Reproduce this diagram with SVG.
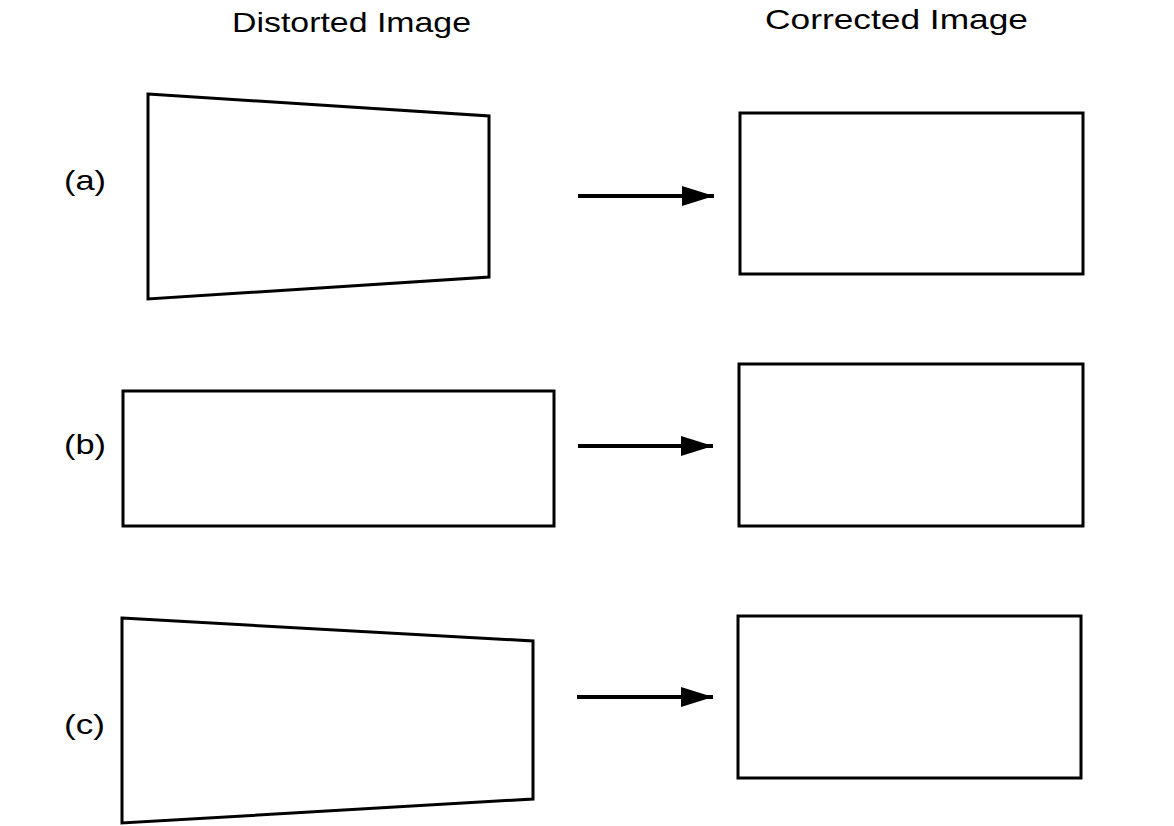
<svg xmlns="http://www.w3.org/2000/svg" width="1174" height="826" viewBox="0 0 1174 826">
<style>
.shape{fill:none;stroke:#000;stroke-width:3;stroke-linejoin:miter}
.lbl{font-family:"Liberation Sans",Arial,sans-serif;font-size:28px;fill:#000}
.conn{stroke:#000;stroke-width:4}
</style>
<defs>
<marker id="ah" markerUnits="userSpaceOnUse" markerWidth="34" markerHeight="20" refX="32" refY="10" orient="auto">
<path d="M0,0 L32,10 L0,20 Z" fill="#000"/>
</marker>
</defs>
<rect width="1174" height="826" fill="#fff"/>
<g id="headers">
<text class="lbl" x="232" y="32" textLength="239" lengthAdjust="spacingAndGlyphs">Distorted Image</text>
<text class="lbl" x="765" y="29" textLength="263" lengthAdjust="spacingAndGlyphs">Corrected Image</text>
</g>
<g id="row-labels">
<text class="lbl" x="64" y="190" textLength="42" lengthAdjust="spacingAndGlyphs">(a)</text>
<text class="lbl" x="64" y="454" textLength="42" lengthAdjust="spacingAndGlyphs">(b)</text>
<text class="lbl" x="64" y="734" textLength="41" lengthAdjust="spacingAndGlyphs">(c)</text>
</g>
<g id="distorted-a"><polygon class="shape" points="148,94 489,116 489,277 148,299"/></g>
<g id="corrected-a"><rect class="shape" x="740" y="113" width="343" height="161"/></g>
<g id="distorted-b"><rect class="shape" x="123" y="391" width="431" height="135"/></g>
<g id="corrected-b"><rect class="shape" x="739" y="364" width="344" height="162"/></g>
<g id="distorted-c"><polygon class="shape" points="122,618 533,641 533,799 122,823"/></g>
<g id="corrected-c"><rect class="shape" x="738" y="616" width="343" height="162"/></g>
<g id="connectors">
<line class="conn" x1="578" y1="196" x2="714" y2="196" marker-end="url(#ah)"/>
<line class="conn" x1="578" y1="446" x2="713" y2="446" marker-end="url(#ah)"/>
<line class="conn" x1="577" y1="697" x2="713" y2="697" marker-end="url(#ah)"/>
</g>
</svg>
